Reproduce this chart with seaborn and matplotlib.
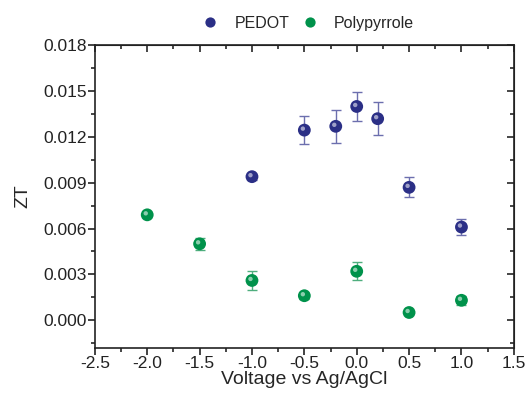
import numpy as np
import pandas as pd
import seaborn as sns
import matplotlib.pyplot as plt
import matplotlib.transforms as mtransforms
from matplotlib.ticker import MultipleLocator, FormatStrFormatter

# PEDOT
pedot_v = [-1.0, -0.5, -0.2, 0.0, 0.2, 0.5, 1.0]
pedot_zt = [0.0094, 0.01245, 0.0127, 0.0140, 0.0132, 0.0087, 0.0061]
pedot_err = [0.0002, 0.0009, 0.0011, 0.00095, 0.0011, 0.00065, 0.0005]

# Polypyrrole
ppy_v = [-2.0, -1.5, -1.0, -0.5, 0.0, 0.5, 1.0]
ppy_zt = [0.0069, 0.0050, 0.0026, 0.0016, 0.0032, 0.0005, 0.0013]
ppy_err = [0.0001, 0.0004, 0.0006, 0.0002, 0.0006, 0.0001, 0.0003]

colors = {"PEDOT": "#2b2f86", "Polypyrrole": "#00924b"}
err_colors = {"PEDOT": "#6c6fae", "Polypyrrole": "#4fae7e"}

df = pd.concat([
    pd.DataFrame({"V": pedot_v, "ZT": pedot_zt, "err": pedot_err, "Sample": "PEDOT"}),
    pd.DataFrame({"V": ppy_v, "ZT": ppy_zt, "err": ppy_err, "Sample": "Polypyrrole"}),
])

sns.set_style("ticks")
plt.rcParams['font.family'] = ['Liberation Sans', 'DejaVu Sans']

fig, ax = plt.subplots(figsize=(5.27, 3.95), dpi=100)
fig.subplots_adjust(left=0.18, right=0.975, top=0.885, bottom=0.12)

for name, g in df.groupby("Sample"):
    ax.errorbar(g["V"], g["ZT"], yerr=g["err"], fmt="none", ecolor=err_colors[name],
                elinewidth=1.0, capsize=3.5, capthick=1.0, zorder=2)

sns.scatterplot(data=df, x="V", y="ZT", hue="Sample", palette=colors, s=85,
                edgecolor="none", ax=ax, zorder=3)

# glossy highlight on each sphere
shift = mtransforms.offset_copy(ax.transData, fig=fig, x=-1.5, y=1.5, units="dots")
ax.scatter(df["V"], df["ZT"], s=10, color="white", alpha=0.55, edgecolor="none",
           transform=shift, zorder=4)

ax.set_xlim(-2.5, 1.5)
ax.set_ylim(-0.0018, 0.018)
ax.xaxis.set_major_locator(MultipleLocator(0.5))
ax.xaxis.set_minor_locator(MultipleLocator(0.25))
ax.yaxis.set_major_locator(MultipleLocator(0.003))
ax.yaxis.set_minor_locator(MultipleLocator(0.0015))
ax.yaxis.set_major_formatter(FormatStrFormatter("%.3f"))
ax.xaxis.set_major_formatter(FormatStrFormatter("%.1f"))

ax.tick_params(which="major", direction="out", length=5, width=1.2, labelsize=12.5,
               colors="#222222", pad=1)
ax.tick_params(which="minor", direction="out", length=3, width=1.2)
for spine in ax.spines.values():
    spine.set_linewidth(1.2)
    spine.set_color("#222222")

ax.set_xlabel("Voltage vs Ag/AgCl", fontsize=14, labelpad=0)
ax.set_ylabel("ZT", fontsize=14, labelpad=8)

# top/right ticks inward
sec_x = ax.secondary_xaxis("top")
sec_x.xaxis.set_major_locator(MultipleLocator(0.5))
sec_x.xaxis.set_minor_locator(MultipleLocator(0.25))
sec_x.tick_params(which="major", direction="in", length=5, width=1.2, labeltop=False)
sec_x.tick_params(which="minor", direction="in", length=3, width=1.2)
sec_y = ax.secondary_yaxis("right")
sec_y.yaxis.set_major_locator(MultipleLocator(0.003))
sec_y.yaxis.set_minor_locator(MultipleLocator(0.0015))
sec_y.tick_params(which="major", direction="in", length=5, width=1.2, labelright=False)
sec_y.tick_params(which="minor", direction="in", length=3, width=1.2)

leg = ax.legend(loc="lower center", bbox_to_anchor=(0.5, 1.0), ncol=2, frameon=False,
                fontsize=11.5, handletextpad=0.5, columnspacing=0.3, markerscale=0.8)

fig.savefig("out.png", dpi=100)
